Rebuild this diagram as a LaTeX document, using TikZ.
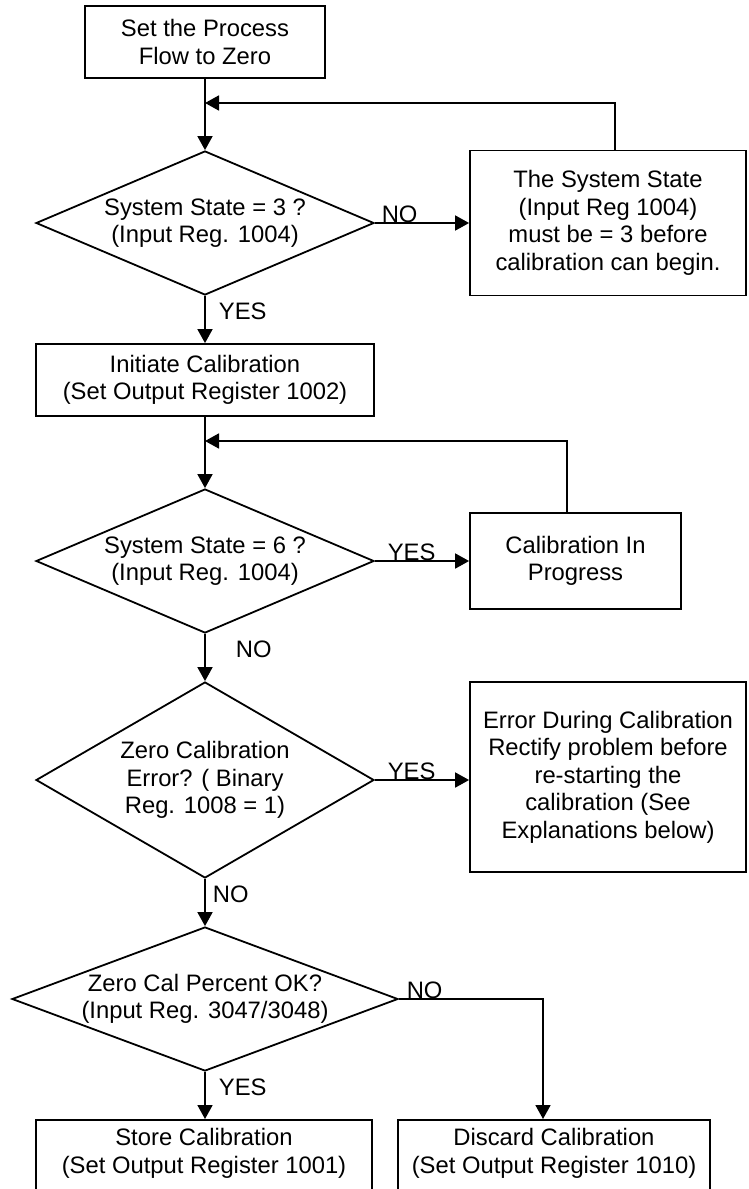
\documentclass[tikz,border=0pt]{standalone}
\usepackage{fontspec}
\setmainfont{Liberation Sans}
\usetikzlibrary{shapes.geometric,arrows.meta,calc}
\begin{document}
\begin{tikzpicture}[x=1pt,y=-1pt,
  every node/.style={font=\fontsize{23.8}{27.5}\selectfont, align=center},
  box/.style={draw, line width=1.8pt, rectangle, inner sep=0pt},
  dia/.style={draw, line width=1.8pt, diamond, inner sep=0pt},
  line/.style={line width=1.8pt},
  arr/.style={line width=1.8pt, -{Triangle[width=15pt,length=14pt]}},
  lbl/.style={inner sep=0pt, font=\fontsize{23.8}{27.5}\selectfont}]
\useasboundingbox (0,0) rectangle (748,1189);

% nodes
\node[box, minimum width=240pt, minimum height=72pt] (start) at (205,42) {Set the Process\\Flow to Zero};
\node[dia, minimum width=338pt, minimum height=144pt, shape aspect=2.35] (d1) at (205,223) {System State = 3 ?\\(Input Reg. 1004)};
\node[box, minimum width=276pt, minimum height=145pt] (ss) at (608,223) {The System State\\(Input Reg 1004)\\must be = 3 before\\calibration can begin.};
\node[box, minimum width=338pt, minimum height=72pt] (init) at (205,380) {Initiate Calibration\\(Set Output Register 1002)};
\node[dia, minimum width=338pt, minimum height=144pt, shape aspect=2.35] (d2) at (205,561) {System State = 6 ?\\(Input Reg. 1004)};
\node[box, minimum width=211pt, minimum height=96pt] (cip) at (575.5,561) {Calibration In\\Progress};
\node[dia, minimum width=338pt, minimum height=196pt, shape aspect=1.72] (d3) at (205,780) {Zero Calibration\\Error? ( Binary\\Reg. 1008 = 1)};
\node[box, minimum width=276pt, minimum height=190pt] (err) at (608,777) {Error During Calibration\\Rectify problem before\\re-starting the\\calibration (See\\Explanations below)};
\node[dia, minimum width=386pt, minimum height=144pt, shape aspect=2.68] (d4) at (205,999) {Zero Cal Percent OK?\\(Input Reg. 3047/3048)};
\node[box, minimum width=336pt, minimum height=80pt, anchor=north,
  label={[anchor=north, align=center, yshift=-6pt]north:{Store Calibration\\(Set Output Register 1001)}}] (store) at (204,1119) {};
\node[box, minimum width=312pt, minimum height=80pt, anchor=north,
  label={[anchor=north, align=center, yshift=-6pt]north:{Discard Calibration\\(Set Output Register 1010)}}] (disc) at (554,1119) {};

\coordinate (j1) at (205,103);
\coordinate (j2) at (205,441);

% connectors
\draw[arr] (start.south) -- (d1.north);
\draw[arr] ([xshift=7pt]ss.north) |- (j1);
\draw[arr] (d1.east) -- node[lbl, at start, anchor=base west, xshift=6pt, yshift=1pt]{NO} (d1.east -| ss.west);
\draw[arr] (d1.south) -- node[lbl, at start, anchor=west, xshift=13pt, yshift=-15pt]{YES} (init.north);
\draw[arr] (init.south) -- (d2.north);
\draw[arr] ([xshift=-8.5pt]cip.north) |- (j2);
\draw[arr] (d2.east) -- node[lbl, at start, anchor=base west, xshift=12pt, yshift=1pt]{YES} (d2.east -| cip.west);
\draw[arr] (d2.south) -- node[lbl, at start, anchor=west, xshift=30pt, yshift=-15pt]{NO} (d3.north);
\draw[arr] (d3.east) -- node[lbl, at start, anchor=base west, xshift=12pt, yshift=1pt]{YES} (d3.east -| err.west);
\draw[arr] (d3.south) -- node[lbl, at start, anchor=west, xshift=7pt, yshift=-15pt]{NO} (d4.north);
\draw[arr] (d4.east) -| node[lbl, at start, anchor=base west, xshift=7pt, yshift=1pt]{NO} ([xshift=-11pt]disc.north);
\draw[arr] (d4.south) -- node[lbl, at start, anchor=west, xshift=13pt, yshift=-15pt]{YES} (d4.south |- store.north);
\end{tikzpicture}
\end{document}
